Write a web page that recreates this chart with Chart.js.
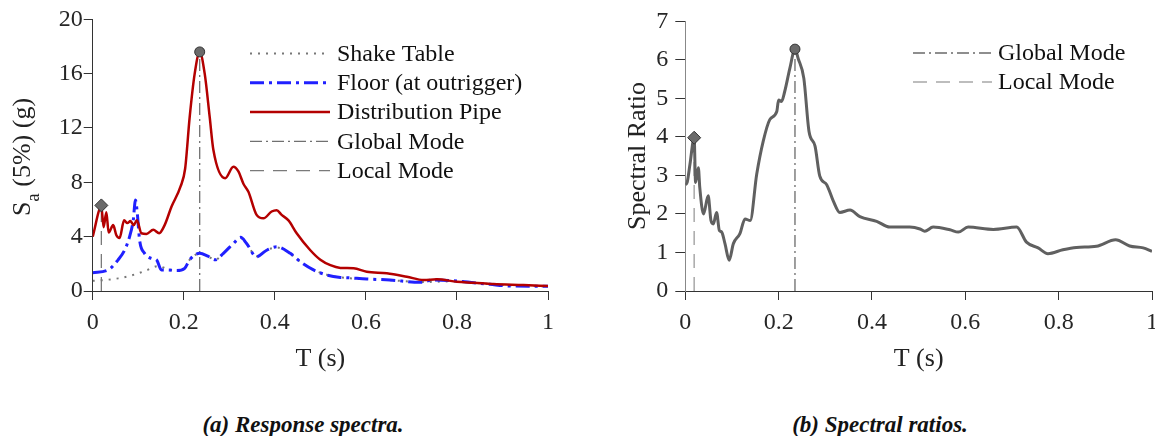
<!DOCTYPE html>
<html>
<head>
<meta charset="utf-8">
<script src="https://cdn.jsdelivr.net/npm/chart.js@4.4.1/dist/chart.umd.min.js"></script>
<style>
  html, body { margin: 0; padding: 0; background: #fff; width: 1155px; height: 436px; overflow: hidden; }
  #left { position: absolute; left: 0; top: 0; }
  #right { position: absolute; left: 577px; top: 0; }
  .cap { position: absolute; top: 412px; line-height: 23px; font: italic bold 23px "Liberation Serif", "Times New Roman", serif;
         color: #111; transform: translateX(-50%); white-space: nowrap; }
</style>
</head>
<body>
<canvas id="left" width="577" height="380"></canvas>
<canvas id="right" width="600" height="380"></canvas>
<div class="cap" style="left:303px">(a) Response spectra.</div>
<div class="cap" style="left:880px">(b) Spectral ratios.</div>
<script>
// (a) response spectra, Sa (g) vs period T (s)
let shakeT = [0, 0.03, 0.056, 0.08, 0.10, 0.12, 0.144, 0.165, 0.184, 0.202, 0.213, 0.235, 0.253, 0.269, 0.287, 0.309, 0.325, 0.338, 0.360, 0.382, 0.404, 0.434, 0.456, 0.485, 0.514, 0.544, 0.602, 0.653, 0.719, 0.800, 0.873, 1.0];
let shakeSa = [0.75, 0.82, 0.93, 1.1, 1.3, 1.55, 1.84, 1.6, 1.5, 1.67, 2.3, 2.75, 2.55, 2.3, 2.75, 3.45, 3.9, 3.5, 2.55, 3.0, 3.2, 2.75, 2.15, 1.55, 1.2, 1.0, 0.88, 0.8, 0.66, 0.72, 0.5, 0.34];

let floorT = [0, 0.034, 0.056, 0.070, 0.081, 0.089, 0.094, 0.098, 0.103, 0.114, 0.129, 0.140, 0.151, 0.165, 0.184, 0.202, 0.213, 0.235, 0.253, 0.269, 0.287, 0.309, 0.325, 0.338, 0.360, 0.382, 0.404, 0.434, 0.456, 0.485, 0.514, 0.544, 0.558, 0.602, 0.653, 0.719, 0.748, 0.800, 0.873, 0.917, 1.0];
let floorSa = [1.35, 1.55, 2.3, 3.0, 4.0, 5.2, 6.7, 5.7, 3.75, 2.77, 2.4, 2.3, 1.55, 1.55, 1.5, 1.67, 2.3, 2.77, 2.57, 2.3, 2.77, 3.5, 3.95, 3.5, 2.52, 3.0, 3.25, 2.77, 2.15, 1.55, 1.18, 1.0, 0.98, 0.88, 0.81, 0.64, 0.81, 0.73, 0.49, 0.37, 0.35];

let pipeT = [0, 0.019, 0.024, 0.030, 0.035, 0.045, 0.052, 0.059, 0.069, 0.076, 0.083, 0.090, 0.097, 0.107, 0.118, 0.133, 0.146, 0.158, 0.173, 0.193, 0.203, 0.213, 0.224, 0.235, 0.246, 0.257, 0.265, 0.291, 0.309, 0.320, 0.331, 0.342, 0.360, 0.375, 0.393, 0.404, 0.415, 0.430, 0.448, 0.478, 0.500, 0.522, 0.544, 0.573, 0.602, 0.646, 0.690, 0.727, 0.756, 0.800, 0.837, 0.880, 0.946, 1.0];
let pipeSa = [4.0, 6.2, 4.7, 5.8, 4.3, 4.85, 4.1, 3.9, 5.2, 5.0, 5.15, 4.85, 5.2, 4.25, 4.2, 4.5, 4.25, 4.85, 6.2, 7.7, 9.0, 12.8, 16.0, 17.6, 16.0, 12.8, 10.4, 8.3, 9.15, 8.8, 7.9, 7.3, 5.6, 5.35, 5.85, 5.95, 5.6, 5.2, 4.25, 3.0, 2.3, 1.9, 1.7, 1.67, 1.42, 1.3, 1.05, 0.81, 0.86, 0.68, 0.61, 0.51, 0.44, 0.37];

// (b) spectral ratio
let ratioT = [0, 0.004, 0.010, 0.019, 0.022, 0.028, 0.031, 0.039, 0.049, 0.055, 0.060, 0.067, 0.073, 0.078, 0.085, 0.094, 0.103, 0.117, 0.128, 0.139, 0.153, 0.167, 0.181, 0.196, 0.200, 0.206, 0.213, 0.224, 0.235, 0.242, 0.254, 0.265, 0.278, 0.288, 0.303, 0.317, 0.331, 0.353, 0.374, 0.410, 0.438, 0.481, 0.503, 0.513, 0.531, 0.567, 0.585, 0.606, 0.660, 0.710, 0.731, 0.756, 0.777, 0.809, 0.838, 0.881, 0.922, 0.952, 0.981, 1.0];
let ratio = [2.76, 2.82, 3.29, 3.98, 2.82, 3.2, 2.69, 2.0, 2.47, 1.83, 1.74, 2.04, 1.57, 1.53, 1.23, 0.8, 1.23, 1.49, 1.87, 1.83, 3.03, 3.89, 4.45, 4.66, 4.96, 4.92, 5.18, 5.78, 6.28, 6.03, 5.52, 4.15, 3.76, 2.99, 2.76, 2.34, 2.04, 2.1, 1.93, 1.81, 1.66, 1.66, 1.61, 1.55, 1.66, 1.59, 1.53, 1.66, 1.6, 1.66, 1.27, 1.12, 0.97, 1.07, 1.13, 1.16, 1.33, 1.17, 1.12, 1.03];

// mode periods [local, global] and the peak values marked on each panel
let modeT = [0.019, 0.235];
let leftPeak = [6.3, 17.6];
let rightPeak = [3.98, 6.28];

const SERIF = '"Liberation Serif", "Times New Roman", serif';
Chart.defaults.font.family = SERIF;
Chart.defaults.color = '#222';

const pts = (xs, ys) => xs.map((x, i) => ({ x: x, y: ys[i] }));
const vline = (t, top) => [{ x: t, y: 0 }, { x: t, y: top }];

// rotated y title, with optional subscript
const yTitle = {
  id: 'yTitle',
  afterDraw(chart, args, o) {
    const ctx = chart.ctx;
    const big = o.size + 'px ' + SERIF;
    const small = Math.round(o.size * 0.72) + 'px ' + SERIF;
    ctx.save();
    ctx.font = big;
    const w1 = ctx.measureText(o.text).width;
    const w3 = o.rest ? ctx.measureText(o.rest).width : 0;
    ctx.font = small;
    const w2 = o.sub ? ctx.measureText(o.sub).width : 0;
    ctx.translate(o.x, o.y);
    ctx.rotate(-Math.PI / 2);
    ctx.fillStyle = '#222';
    ctx.textAlign = 'left';
    ctx.textBaseline = 'alphabetic';
    let u = -(w1 + w2 + w3) / 2;
    ctx.font = big;
    ctx.fillText(o.text, u, 0);
    u += w1;
    if (o.sub) { ctx.font = small; ctx.fillText(o.sub, u, o.shift); u += w2; }
    if (o.rest) { ctx.font = big; ctx.fillText(o.rest, u, 0); }
    ctx.restore();
  }
};

// legend drawn as short line samples in one column
const lineLegend = {
  id: 'lineLegend',
  afterDraw(chart, args, o) {
    const ctx = chart.ctx;
    ctx.save();
    ctx.font = o.size + 'px ' + SERIF;
    ctx.textBaseline = 'middle';
    ctx.textAlign = 'left';
    o.items.forEach((idx, i) => {
      const ds = chart.data.datasets[idx];
      const y = o.y + i * o.dy;
      ctx.beginPath();
      ctx.strokeStyle = ds.borderColor;
      ctx.lineWidth = ds.borderWidth;
      ctx.setLineDash(ds.borderDash || []);
      ctx.moveTo(o.x0, y);
      ctx.lineTo(o.x1, y);
      ctx.stroke();
      ctx.setLineDash([]);
      ctx.fillStyle = '#111';
      ctx.fillText(ds.label, o.tx, y + 1);
    });
    ctx.restore();
  }
};

function axis(min, max, step, c) {
  return {
    type: 'linear', min: min, max: max,
    ticks: {
      stepSize: step, font: { size: 24 }, color: '#262626', padding: c.pad,
      callback: (v) => String(Math.round(v * 10) / 10)
    },
    grid: { drawOnChartArea: false, drawTicks: true, tickLength: c.tick, tickColor: '#333' },
    border: { display: true, color: c.border || '#333', width: 1 },
    title: c.title ? { display: true, text: c.title, font: { size: 26 }, color: '#222', padding: { top: 0, bottom: 5 } } : { display: false },
    afterFit: (s) => { if (c.w) s.width = c.w; if (c.h) s.height = c.h; }
  };
}

new Chart(document.getElementById('left'), {
  type: 'line',
  data: {
    datasets: [
      { label: 'Shake Table', data: pts(shakeT, shakeSa), borderColor: '#777', borderWidth: 2, borderDash: [2, 6], pointRadius: 0, cubicInterpolationMode: 'monotone', order: 5 },
      { label: 'Floor (at outrigger)', data: pts(floorT, floorSa), borderColor: '#2020ff', borderWidth: 3, borderDash: [14, 5, 3, 5], pointRadius: 0, cubicInterpolationMode: 'monotone', order: 3 },
      { label: 'Distribution Pipe', data: pts(pipeT, pipeSa), borderColor: '#b40000', borderWidth: 2.5, pointRadius: 0, cubicInterpolationMode: 'monotone', order: 2 },
      { label: 'Global Mode', data: vline(modeT[1], leftPeak[1]), borderColor: '#707070', borderWidth: 1.3, borderDash: [12, 4, 2, 4], pointRadius: 0, order: 6 },
      { label: 'Local Mode', data: vline(modeT[0], leftPeak[0]), borderColor: '#7a7a7a', borderWidth: 1.3, borderDash: [14, 9], pointRadius: 0, order: 6 },
      { label: 'peaks', data: pts(modeT, leftPeak), showLine: false, pointStyle: ['rectRot', 'circle'], pointRadius: [6.5, 5], backgroundColor: '#6a6a6a', borderColor: '#333', borderWidth: 1, order: 0 }
    ]
  },
  options: {
    responsive: false,
    animation: false,
    layout: { padding: { left: 0, right: 29, top: 19.3, bottom: 0 } },
    scales: {
      x: axis(0, 1, 0.2, { tick: 9, pad: 8, h: 89, title: 'T (s)' }),
      y: axis(0, 20, 4, { tick: 9, pad: 1, w: 92.7 })
    },
    plugins: {
      legend: { display: false },
      tooltip: { enabled: false },
      yTitle: { text: 'S', sub: 'a', rest: ' (5%) (g)', x: 30, y: 157, size: 26, shift: 9 },
      lineLegend: { items: [0, 1, 2, 3, 4], x0: 250, x1: 330, tx: 337, y: 53.5, dy: 29.3, size: 24 }
    }
  },
  plugins: [yTitle, lineLegend]
});

new Chart(document.getElementById('right'), {
  type: 'line',
  data: {
    datasets: [
      { label: 'Spectral Ratio', data: pts(ratioT, ratio), borderColor: '#606060', borderWidth: 3, pointRadius: 0, cubicInterpolationMode: 'monotone', order: 2 },
      { label: 'Global Mode', data: vline(modeT[1], rightPeak[1]), borderColor: '#6a6a6a', borderWidth: 1.3, borderDash: [12, 4, 2, 4], pointRadius: 0, order: 6 },
      { label: 'Local Mode', data: vline(modeT[0], rightPeak[0]), borderColor: '#a8a8a8', borderWidth: 1.5, borderDash: [14, 9], pointRadius: 0, order: 6 },
      { label: 'peaks', data: pts(modeT, rightPeak), showLine: false, pointStyle: ['rectRot', 'circle'], pointRadius: [6.5, 5], backgroundColor: '#6a6a6a', borderColor: '#333', borderWidth: 1, order: 0 }
    ]
  },
  options: {
    responsive: false,
    animation: false,
    layout: { padding: { left: 0, right: 25, top: 19.3, bottom: 0 } },
    scales: {
      x: axis(0, 1, 0.2, { tick: 9, pad: 8, h: 89, title: 'T (s)' }),
      y: axis(0, 7, 1, { tick: 10, pad: 7, w: 108.3, border: '#888' })
    },
    plugins: {
      legend: { display: false },
      tooltip: { enabled: false },
      yTitle: { text: 'Spectral Ratio', x: 68, y: 156, size: 26 },
      lineLegend: { items: [1, 2], x0: 336, x1: 415, tx: 421, y: 53, dy: 29, size: 24 }
    }
  },
  plugins: [yTitle, lineLegend]
});
</script>
</body>
</html>
